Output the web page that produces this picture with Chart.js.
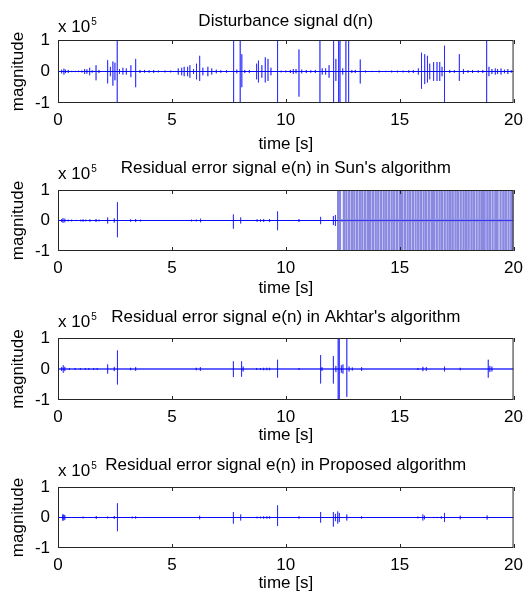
<!DOCTYPE html>
<html>
<head>
<meta charset="utf-8">
<script src="https://cdn.jsdelivr.net/npm/chart.js@4.4.0/dist/chart.umd.min.js"></script>
<style>
  body { margin: 0; background: #fff; }
  #wrap { position: relative; width: 530px; height: 596px; }
  #wrap canvas { position: absolute; left: 0; }
</style>
</head>
<body>
<div id="wrap"></div>
<script>
// spikes: [time (s), positive peak, negative peak], magnitude in units of 1e5
var disturbance = [
  [0.16,0.06,-0.06],[0.26,0.09,-0.1],[0.33,0.06,-0.05],[0.45,0.05,-0.05],[0.6,0.02,-0.02],[0.75,0.02,-0.02],
  [0.9,0.03,-0.02],[1.05,0.03,-0.03],[1.17,0.08,-0.08],[1.27,0.07,-0.07],[1.39,0.12,-0.12],[1.5,0.04,-0.04],
  [1.67,0.2,-0.28],[1.8,0.05,-0.05],[2.18,0.36,-0.38],[2.3,0.15,-0.15],[2.41,0.32,-0.45],[2.5,0.28,-0.28],
  [2.6,1,-1],[2.7,0.08,-0.08],[2.85,0.12,-0.1],[3.0,0.1,-0.1],[3.2,0.2,-0.18],[3.41,0.4,-0.5],[3.6,0.05,-0.05],
  [3.8,0.05,-0.04],[4.0,0.04,-0.04],[4.2,0.05,-0.05],[4.4,0.03,-0.03],[4.7,0.03,-0.03],[4.95,0.03,-0.03],
  [5.28,0.1,-0.1],[5.43,0.12,-0.12],[5.54,0.15,-0.15],[5.69,0.15,-0.15],[5.79,0.2,-0.2],[5.95,0.08,-0.08],
  [6.08,0.25,-0.25],[6.22,0.5,-0.3],[6.36,0.12,-0.12],[6.58,0.15,-0.15],[6.75,0.1,-0.1],[6.95,0.06,-0.06],
  [7.15,0.04,-0.04],[7.4,0.04,-0.04],[7.71,1,-1],[7.85,0.06,-0.06],[8.0,1,-1],[8.07,0.55,-0.5],[8.2,0.05,-0.05],
  [8.4,0.05,-0.05],[8.72,0.25,-0.25],[8.8,0.35,-0.35],[8.95,0.2,-0.2],[9.1,0.45,-0.35],[9.22,0.4,-0.3],
  [9.35,0.12,-0.12],[9.64,1,-1],[9.8,0.03,-0.03],[10.0,0.03,-0.03],[10.2,0.05,-0.05],[10.33,0.08,-0.08],
  [10.45,0.08,-0.06],[10.58,0.7,-0.8],[10.7,0.06,-0.06],[10.9,0.05,-0.05],[11.1,0.04,-0.04],[11.3,0.05,-0.05],
  [11.5,1,-1],[11.6,0.1,-0.1],[11.75,0.1,-0.1],[11.9,0.2,-0.2],[12.1,1,-1],[12.2,0.4,-0.3],[12.32,1,-1],
  [12.38,1,-1],[12.5,0.1,-0.1],[12.64,1,-1],[12.76,1,-1],[12.9,0.05,-0.05],[13.05,0.05,-0.05],[13.27,0.38,-0.38],
  [13.5,0.03,-0.03],[13.8,0.02,-0.02],[14.1,0.03,-0.03],[14.4,0.02,-0.02],[14.65,0.03,-0.03],[14.9,0.03,-0.03],
  [15.15,0.03,-0.03],[15.4,0.04,-0.04],[15.6,0.05,-0.05],[15.82,0.1,-0.1],[15.96,0.6,-0.55],[16.1,0.55,-0.4],
  [16.22,0.5,-0.35],[16.32,0.25,-0.25],[16.49,0.3,-0.3],[16.64,0.3,-0.3],[16.76,0.3,-0.3],[16.86,0.15,-0.15],
  [16.97,0.82,-1],[17.2,0.05,-0.05],[17.4,0.04,-0.04],[17.62,0.55,-0.3],[17.8,0.08,-0.08],[18.0,0.04,-0.04],
  [18.2,0.05,-0.05],[18.45,0.04,-0.04],[18.65,0.05,-0.05],[18.82,1,-1],[18.92,0.15,-0.15],[19.05,0.08,-0.08],
  [19.2,0.1,-0.1],[19.3,0.08,-0.08],[19.45,0.1,-0.1],[19.6,0.06,-0.06],[19.75,0.08,-0.08],[19.9,0.04,-0.04]
];

var sunSpikes = [
  [0.16,0.05,-0.05],[0.22,0.08,-0.08],[0.3,0.06,-0.06],[0.45,0.03,-0.03],[0.6,0.03,-0.03],[0.8,0.02,-0.02],
  [1.0,0.03,-0.03],[1.1,0.04,-0.04],[1.22,0.03,-0.03],[1.4,0.04,-0.04],[1.67,0.05,-0.05],[1.8,0.03,-0.03],
  [2.18,0.1,-0.1],[2.47,0.07,-0.07],[2.61,0.6,-0.55],[3.19,0.04,-0.04],[3.41,0.05,-0.05],[3.62,0.03,-0.03],
  [5.86,0.03,-0.03],[6.07,0.03,-0.03],[6.26,0.06,-0.06],[7.7,0.2,-0.27],[8.02,0.1,-0.1],[8.74,0.04,-0.04],
  [8.89,0.04,-0.04],[9.03,0.05,-0.05],[9.29,0.05,-0.05],[9.64,0.3,-0.32],[10.58,0.05,-0.05],[11.53,0.12,-0.12],
  [12.09,0.15,-0.15],[12.18,0.18,-0.18]
];
// saturated burst after ~12.3 s, every stroke hits +-1
var sunBurst = [
  12.3,12.38,12.55,12.66,12.78,12.9,13.01,13.13,13.25,13.36,13.48,13.6,13.69,13.71,13.83,13.95,14.06,14.18,
  14.3,14.41,14.53,14.65,14.76,14.88,15.0,15.1,15.11,15.23,15.35,15.46,15.58,15.7,15.81,15.82,15.93,16.05,
  16.16,16.28,16.4,16.49,16.51,16.63,16.75,16.86,16.98,17.1,17.21,17.22,17.33,17.45,17.56,17.68,17.8,17.91,
  17.92,18.03,18.15,18.26,18.38,18.5,18.61,18.63,18.73,18.85,18.96,19.08,19.2,19.28,19.31,19.43,19.55,19.66,
  19.78,19.9,19.99
];

var akhtarSpikes = [
  [0.16,0.06,-0.06],[0.23,0.12,-0.12],[0.3,0.07,-0.07],[0.5,0.03,-0.03],[0.75,0.03,-0.03],[0.98,0.03,-0.03],
  [1.2,0.03,-0.03],[1.35,0.03,-0.03],[1.57,0.03,-0.03],[1.72,0.03,-0.03],[2.18,0.15,-0.15],[2.47,0.07,-0.07],
  [2.61,0.6,-0.5],[3.19,0.04,-0.04],[3.41,0.06,-0.06],[6.07,0.04,-0.04],[6.25,0.06,-0.06],[7.7,0.25,-0.26],
  [8.06,0.25,-0.25],[8.13,0.08,-0.08],[8.72,0.03,-0.03],[8.89,0.03,-0.03],[9.03,0.04,-0.04],[9.17,0.04,-0.04],
  [9.29,0.04,-0.04],[9.64,0.3,-0.28],[10.58,0.03,-0.03],[11.53,0.45,-0.47],[11.59,0.06,-0.06],[12.09,0.42,-0.47],
  [12.2,0.1,-0.1],[12.3,1,-1],[12.35,1,-1],[12.44,0.12,-0.12],[12.51,0.15,-0.15],[12.68,1,-0.9],[12.78,0.08,-0.08],
  [12.92,0.05,-0.05],[13.33,0.06,-0.06],[15.8,0.03,-0.03],[16.02,0.07,-0.07],[16.17,0.06,-0.06],[16.97,0.08,-0.08],
  [17.66,0.04,-0.04],[18.89,0.3,-0.28],[18.96,0.1,-0.1],[19.05,0.08,-0.08]
];

var proposedSpikes = [
  [0.2,0.1,-0.1],[0.25,0.1,-0.1],[0.3,0.08,-0.08],[1.1,0.03,-0.03],[1.68,0.05,-0.05],[2.18,0.03,-0.03],
  [2.47,0.05,-0.05],[2.61,0.47,-0.45],[3.26,0.03,-0.03],[3.41,0.04,-0.04],[6.22,0.06,-0.06],[7.7,0.18,-0.2],
  [8.02,0.1,-0.1],[8.74,0.03,-0.03],[8.89,0.03,-0.03],[9.03,0.04,-0.04],[9.17,0.04,-0.04],[9.29,0.04,-0.04],
  [9.64,0.4,-0.28],[10.58,0.04,-0.04],[11.53,0.18,-0.17],[12.09,0.18,-0.3],[12.18,0.12,-0.12],[12.28,0.2,-0.2],
  [12.35,0.15,-0.15],[12.68,0.1,-0.1],[13.33,0.04,-0.04],[15.8,0.03,-0.03],[16.02,0.1,-0.1],[16.09,0.06,-0.06],
  [16.5,0.02,-0.02],[16.65,0.02,-0.02],[16.83,0.04,-0.04],[16.97,0.15,-0.15],[17.66,0.06,-0.06],[18.84,0.07,-0.07]
];

var titles = [
  'Disturbance signal d(n)',
  "Residual error signal e(n) in Sun's algorithm",
  "Residual error signal e(n) in Akhtar's algorithm",
  'Residual error signal e(n) in Proposed algorithm'
];
var xTickValues = [0, 5, 10, 15, 20];
var yTickValues = [-1, 0, 1];

// where each panel sits on the page (canvas top/height, plot box, title and label rows, all relative to canvas)
var panels = [
  { top: 0,   h: 156, boxTop: 40, boxBottom: 103, titleY: 21, xlabY: 144, expGap: 8 },
  { top: 156, h: 146, boxTop: 34, boxBottom: 95,  titleY: 12, xlabY: 132, expGap: 11 },
  { top: 302, h: 148, boxTop: 36, boxBottom: 98,  titleY: 15, xlabY: 133, expGap: 11 },
  { top: 450, h: 146, boxTop: 37, boxBottom: 98,  titleY: 15, xlabY: 133, expGap: 11 }
];

var FONT = 'Liberation Sans, Arial, Helvetica, sans-serif';
var FS = 17;
var LH = FS * 1.2;

function toPoints(spikes) {
    var pts = [{x: 0, y: 0}];
    spikes.forEach(function (s) {
        pts.push({x: s[0], y: 0}, {x: s[0], y: s[1]}, {x: s[0], y: s[2]}, {x: s[0], y: 0});
    });
    pts.push({x: 20, y: 0});
    return pts;
}

function burstPoints(times) {
    var pts = [];
    times.forEach(function (t) {
        pts.push({x: t, y: 0}, {x: t, y: 1}, {x: t, y: -1}, {x: t, y: 0});
    });
    return pts;
}

// box, inward ticks and the "x 10^5" multiplier, drawn the way matlab does it
var matlabFrame = {
    id: 'matlabFrame',
    afterDatasetsDraw: function (chart) {
        var a = chart.chartArea, ctx = chart.ctx, xs = chart.scales.x;
        var gap = chart.options.plugins.matlabFrame.expGap;
        ctx.save();
        ctx.strokeStyle = '#262626';
        ctx.lineWidth = 1;
        ctx.strokeRect(a.left + 0.5, a.top + 0.5, a.right - a.left - 1, a.bottom - a.top - 1);
        xTickValues.forEach(function (v) {
            var px = Math.round(xs.getPixelForValue(v)) + 0.5;
            ctx.beginPath();
            ctx.moveTo(px, a.top); ctx.lineTo(px, a.top + 4);
            ctx.moveTo(px, a.bottom); ctx.lineTo(px, a.bottom - 4);
            ctx.stroke();
        });
        ctx.fillStyle = '#000';
        ctx.textAlign = 'left';
        ctx.textBaseline = 'alphabetic';
        ctx.font = FS + 'px ' + FONT;
        ctx.fillText('x 10', a.left, a.top - gap);
        var w = ctx.measureText('x 10').width;
        ctx.font = '10px ' + FONT;
        ctx.fillText('5', a.left + w + 1, a.top - gap - 7);
        ctx.restore();
    }
};

var wrap = document.getElementById('wrap');
var seriesList = [disturbance, sunSpikes, akhtarSpikes, proposedSpikes];

panels.forEach(function (p, i) {
    var canvas = document.createElement('canvas');
    canvas.width = 530;
    canvas.height = p.h;
    canvas.style.top = p.top + 'px';
    wrap.appendChild(canvas);

    var datasets = [{
        data: toPoints(seriesList[i]),
        borderColor: 'rgba(0,0,255,0.6)',
        borderWidth: 1,
        pointRadius: 0,
        tension: 0
    }, {
        // solid zero line under the spikes
        data: [{x: 0, y: 0}, {x: i === 1 ? 12.3 : 20, y: 0}],
        borderColor: '#1a1aff',
        borderWidth: 1,
        pointRadius: 0
    }];
    if (i === 1) {
        datasets.push({
            data: burstPoints(sunBurst),
            borderColor: 'rgba(40,40,200,0.55)',
            borderWidth: 2.3,
            pointRadius: 0,
            tension: 0
        });
    }

    var titlePadTop = p.titleY - LH / 2;
    new Chart(canvas.getContext('2d'), {
        type: 'line',
        data: { datasets: datasets },
        options: {
            responsive: false,
            animation: false,
            events: [],
            layout: { padding: { top: 0, right: 10, bottom: 0, left: 0 } },
            plugins: {
                legend: { display: false },
                tooltip: { enabled: false },
                title: {
                    display: true,
                    text: titles[i],
                    color: '#000',
                    fullSize: false,
                    font: { family: FONT, size: FS, weight: 'normal' },
                    padding: { top: titlePadTop, bottom: p.boxTop - titlePadTop - LH }
                },
                matlabFrame: { expGap: p.expGap }
            },
            scales: {
                x: {
                    type: 'linear',
                    min: 0,
                    max: 20,
                    afterBuildTicks: function (scale) {
                        scale.ticks = xTickValues.map(function (v) { return {value: v}; });
                    },
                    afterFit: function (scale) { scale.height = p.h - p.boxBottom; },
                    grid: { display: false, drawTicks: false },
                    border: { display: false },
                    ticks: {
                        color: '#000',
                        padding: 7,
                        maxRotation: 0,
                        font: { family: FONT, size: FS },
                        callback: function (v) { return String(v); }
                    },
                    title: {
                        display: true,
                        text: 'time [s]',
                        color: '#000',
                        font: { family: FONT, size: FS },
                        padding: { top: 0, bottom: p.h - p.xlabY - LH / 2 }
                    }
                },
                y: {
                    min: -1,
                    max: 1,
                    afterBuildTicks: function (scale) {
                        scale.ticks = yTickValues.map(function (v) { return {value: v}; });
                    },
                    afterFit: function (scale) { scale.width = 58; },
                    grid: { display: false, drawTicks: false },
                    border: { display: false },
                    ticks: {
                        color: '#000',
                        padding: 8,
                        font: { family: FONT, size: FS },
                        callback: function (v) { return String(v); }
                    },
                    title: {
                        display: true,
                        text: 'magnitude',
                        color: '#000',
                        font: { family: FONT, size: FS },
                        padding: { top: 18 - LH / 2, bottom: 0 }
                    }
                }
            }
        },
        plugins: [matlabFrame]
    });
});
</script>
</body>
</html>
